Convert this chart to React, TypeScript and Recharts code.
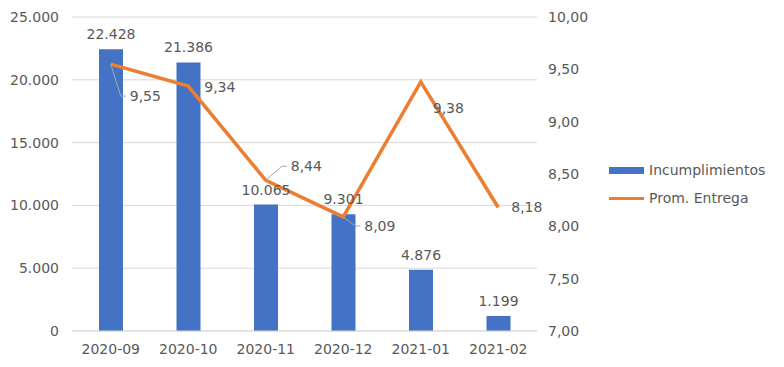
import { ComposedChart, Bar, Line, XAxis, YAxis, CartesianGrid, LabelList } from 'recharts'

const months = ['2020-09', '2020-10', '2020-11', '2020-12', '2021-01', '2021-02']
const incumplimientos = [22428, 21386, 10065, 9301, 4876, 1199]
const promEntrega = [9.55, 9.34, 8.44, 8.09, 9.38, 8.18]
const leftTicks = [0, 5000, 10000, 15000, 20000, 25000]
const rightTicks = [7, 7.5, 8, 8.5, 9, 9.5, 10]

const data = months.map((m, i) => ({ month: m, inc: incumplimientos[i], prom: promEntrega[i] }))

const BLUE = '#4472C4'
const ORANGE = '#ED7D31'
const TEXT = '#595959'
const GRID = '#D9D9D9'
const FONT = 'DejaVu Sans, Verdana, sans-serif'

// where Excel dropped each line label, relative to its point (dx, dy) + whether it has a leader line
const lineLabelPlacement: { dx: number; dy: number; leader: boolean }[] = [
  { dx: 19, dy: 32, leader: true },
  { dx: 16, dy: 1, leader: false },
  { dx: 25, dy: -14, leader: true },
  { dx: 21, dy: 9, leader: true },
  { dx: 12, dy: 26, leader: false },
  { dx: 13, dy: 0, leader: false },
]

const fmtThousands = (v: number) => v.toLocaleString('de-DE')
const fmtComma = (v: number) => v.toFixed(2).replace('.', ',')

function LineLabel(props: any) {
  const { x, y, value, index } = props
  const p = lineLabelPlacement[index] ?? { dx: 10, dy: 0, leader: false }
  const tx = x + p.dx
  const ty = y + p.dy
  return (
    <g>
      {p.leader && (
        <polyline
          points={`${x},${y} ${tx - 9},${ty} ${tx - 4},${ty}`}
          fill="none"
          stroke="#A6A6A6"
          strokeWidth={1}
        />
      )}
      <text x={tx} y={ty} dy="0.35em" fill={TEXT} fontSize={14} fontFamily={FONT} textAnchor="start">
        {fmtComma(value)}
      </text>
    </g>
  )
}

function ChartLegend() {
  const row = { display: 'flex', alignItems: 'center', height: 28, fontSize: 14, color: TEXT, fontFamily: FONT } as const
  return (
    <div style={{ position: 'absolute', left: 609, top: 156 }}>
      <div style={row}>
        <span style={{ width: 35, height: 7, background: BLUE, marginRight: 5 }} />
        Incumplimientos
      </div>
      <div style={row}>
        <span style={{ width: 35, height: 3, background: ORANGE, marginRight: 5 }} />
        Prom. Entrega
      </div>
    </div>
  )
}

export default function App() {
  return (
    <div style={{ position: 'absolute', left: 0, top: 0, width: 784, height: 367, background: '#fff' }}>
      <ComposedChart
        width={784}
        height={367}
        data={data}
        margin={{ top: 17, right: 147, bottom: 0, left: 0 }}
        style={{ fontFamily: FONT }}
      >
        <CartesianGrid vertical={false} stroke={GRID} yAxisId="left" />
        <XAxis
          dataKey="month"
          height={36}
          tickLine={false}
          axisLine={{ stroke: GRID }}
          tickMargin={7}
          tick={{ fill: TEXT, fontSize: 14 }}
        />
        <YAxis
          yAxisId="left"
          width={72}
          domain={[0, 25000]}
          ticks={leftTicks}
          tickFormatter={fmtThousands}
          axisLine={false}
          tickLine={false}
          tickMargin={7}
          tick={{ fill: TEXT, fontSize: 14 }}
        />
        <YAxis
          yAxisId="right"
          orientation="right"
          width={100}
          domain={[7, 10]}
          ticks={rightTicks}
          tickFormatter={fmtComma}
          axisLine={false}
          tickLine={false}
          tickMargin={5}
          tick={{ fill: TEXT, fontSize: 14 }}
        />
        <Bar yAxisId="left" dataKey="inc" name="Incumplimientos" fill={BLUE} barSize={24} isAnimationActive={false}>
          <LabelList
            dataKey="inc"
            position="top"
            offset={10}
            formatter={(v: any) => fmtThousands(Number(v))}
            style={{ fill: TEXT, fontSize: 14, fontFamily: FONT }}
          />
        </Bar>
        <Line
          yAxisId="right"
          dataKey="prom"
          name="Prom. Entrega"
          stroke={ORANGE}
          strokeWidth={3.5}
          dot={false}
          activeDot={false}
          isAnimationActive={false}
        >
          <LabelList dataKey="prom" content={<LineLabel />} />
        </Line>
      </ComposedChart>
      <ChartLegend />
    </div>
  )
}
